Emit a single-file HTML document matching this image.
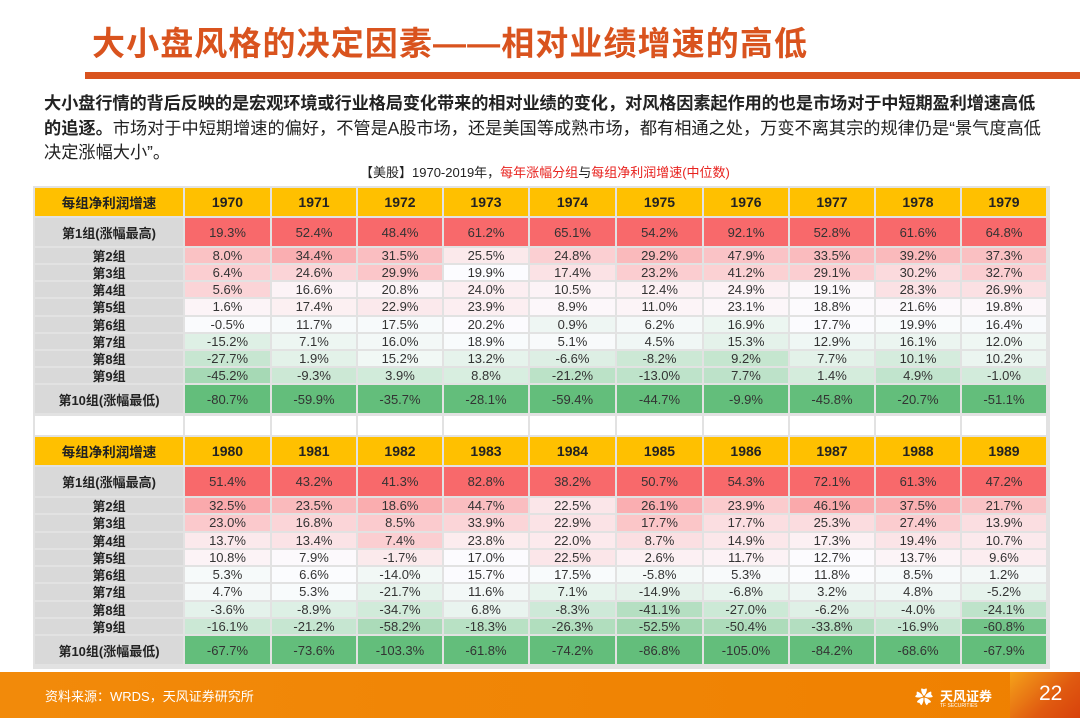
<!DOCTYPE html>
<html><head><meta charset="utf-8">
<style>
*{margin:0;padding:0;box-sizing:border-box}
body{width:1080px;height:718px;background:#fff;position:relative;overflow:hidden;font-family:"Liberation Sans","Noto Sans CJK SC",sans-serif;color:#222}
.title{position:absolute;left:92px;top:17px;font-size:33px;font-weight:bold;color:#D9531E;white-space:nowrap;letter-spacing:1.1px}
.bar{position:absolute;left:85px;top:72px;width:995px;height:7px;background:#D9531E}
.p{position:absolute;left:44px;width:1000px;font-size:17.2px;height:24px;line-height:24px;white-space:nowrap}
.cap{position:absolute;left:360px;top:162px;font-size:13px;color:#222;white-space:nowrap}
.cap span{color:#e8221e}
.c{position:absolute;display:flex;align-items:center;justify-content:center;font-size:13px;border-right:2px solid #e2e2e2;border-bottom:2px solid #e2e2e2;white-space:nowrap}
.foot{position:absolute;left:0;top:672px;width:1080px;height:46px;background:linear-gradient(90deg,#f28a0a,#ef8000)}
.ft{position:absolute;left:45px;top:686px;font-size:13px;color:#fff}
</style></head><body>
<div class="title">大小盘风格的决定因素——相对业绩增速的高低</div>
<div class="bar"></div>
<div class="p" style="top:91px;font-weight:bold;letter-spacing:-0.1px">大小盘行情的背后反映的是宏观环境或行业格局变化带来的相对业绩的变化，对风格因素起作用的也是市场对于中短期盈利增速高低</div>
<div class="p" style="top:116px"><b>的追逐。</b>市场对于中短期增速的偏好，不管是A股市场，还是美国等成熟市场，都有相通之处，万变不离其宗的规律仍是“景气度高低</div>
<div class="p" style="top:140px">决定涨幅大小”。</div>
<div class="cap">【美股】1970-2019年，<span>每年涨幅分组</span>与<span>每组净利润增速(中位数)</span></div>
<div id="t"></div>
<div class="foot"></div>
<div class="ft">资料来源：WRDS，天风证券研究所</div>
<div style="position:absolute;left:1010px;top:672px;width:70px;height:46px;background:linear-gradient(135deg,#f5a21a,#e05a10 60%,#d8420c)"></div>
<div style="position:absolute;left:915px;top:684px;color:#fff;font-size:18px;font-weight:bold">✿</div>
<div style="position:absolute;left:940px;top:686px;color:#fff;font-size:13px;font-weight:bold">天风证券</div>
<div style="position:absolute;left:940px;top:703px;color:#fff;font-size:5px">TF SECURITIES</div>
<div style="position:absolute;left:1039px;top:682px;color:#fff;font-size:21px">22</div>
<script>
var A=[[1970,1971,1972,1973,1974,1975,1976,1977,1978,1979],
[[19.3,52.4,48.4,61.2,65.1,54.2,92.1,52.8,61.6,64.8],
[8.0,34.4,31.5,25.5,24.8,29.2,47.9,33.5,39.2,37.3],
[6.4,24.6,29.9,19.9,17.4,23.2,41.2,29.1,30.2,32.7],
[5.6,16.6,20.8,24.0,10.5,12.4,24.9,19.1,28.3,26.9],
[1.6,17.4,22.9,23.9,8.9,11.0,23.1,18.8,21.6,19.8],
[-0.5,11.7,17.5,20.2,0.9,6.2,16.9,17.7,19.9,16.4],
[-15.2,7.1,16.0,18.9,5.1,4.5,15.3,12.9,16.1,12.0],
[-27.7,1.9,15.2,13.2,-6.6,-8.2,9.2,7.7,10.1,10.2],
[-45.2,-9.3,3.9,8.8,-21.2,-13.0,7.7,1.4,4.9,-1.0],
[-80.7,-59.9,-35.7,-28.1,-59.4,-44.7,-9.9,-45.8,-20.7,-51.1]]];
var B=[[1980,1981,1982,1983,1984,1985,1986,1987,1988,1989],
[[51.4,43.2,41.3,82.8,38.2,50.7,54.3,72.1,61.3,47.2],
[32.5,23.5,18.6,44.7,22.5,26.1,23.9,46.1,37.5,21.7],
[23.0,16.8,8.5,33.9,22.9,17.7,17.7,25.3,27.4,13.9],
[13.7,13.4,7.4,23.8,22.0,8.7,14.9,17.3,19.4,10.7],
[10.8,7.9,-1.7,17.0,22.5,2.6,11.7,12.7,13.7,9.6],
[5.3,6.6,-14.0,15.7,17.5,-5.8,5.3,11.8,8.5,1.2],
[4.7,5.3,-21.7,11.6,7.1,-14.9,-6.8,3.2,4.8,-5.2],
[-3.6,-8.9,-34.7,6.8,-8.3,-41.1,-27.0,-6.2,-4.0,-24.1],
[-16.1,-21.2,-58.2,-18.3,-26.3,-52.5,-50.4,-33.8,-16.9,-60.8],
[-67.7,-73.6,-103.3,-61.8,-74.2,-86.8,-105.0,-84.2,-68.6,-67.9]]];
var labels=["第1组(涨幅最高)","第2组","第3组","第4组","第5组","第6组","第7组","第8组","第9组","第10组(涨幅最低)"];
var xs=[35,185,272,358,444,530,617,704,790,876,962,1048];
var h="";
function cell(x,y,w,hh,txt,bg,st){h+='<div class="c" style="left:'+x+'px;top:'+y+'px;width:'+w+'px;height:'+hh+'px;background:'+bg+';'+(st||'')+'">'+txt+'</div>';}
function mix(a,b,t){return 'rgb('+[0,1,2].map(function(i){return Math.round(a[i]+(b[i]-a[i])*t)}).join(',')+')';}
var R=[248,105,107],W=[252,252,255],G=[99,190,123];
function col(v,arr){var s=arr.slice().sort(function(a,b){return a-b});var mn=s[0],mx=s[s.length-1],md=(s[4]+s[5])/2;
 if(v>=md)return mix(W,R,(v-md)/(mx-md||1));return mix(W,G,(md-v)/(md-mn||1));}
function table(D,y0,rowsY){
 cell(xs[0],y0,xs[1]-xs[0],30,"每组净利润增速","#FFC000","font-weight:bold;font-size:13.5px");
 for(var j=0;j<10;j++)cell(xs[j+1],y0,xs[j+2]-xs[j+1],30,D[0][j],"#FFC000","font-weight:bold;font-size:14px");
 for(var i=0;i<10;i++){var y=rowsY[i],hh=rowsY[i+1]-y;
  cell(xs[0],y,xs[1]-xs[0],hh,labels[i],"#D9D9D9","font-weight:bold");
  for(var j=0;j<10;j++){var c=D[1].map(function(r){return r[j]});var v=D[1][i][j];
   cell(xs[j+1],y,xs[j+2]-xs[j+1],hh,v.toFixed(1)+"%",col(v,c),"color:#333");}}
}
function ry(a,b,c){var r=[a,b];for(var k=1;k<=8;k++)r.push(b+(c-b)*k/8);r.push(c+30);return r;}
h+='<div style="position:absolute;left:33px;top:186px;width:1017px;height:483px;background:#e2e2e2"></div>';
table(A,188,ry(218,248,385));
cell(xs[0],416,xs[1]-xs[0],21,"","#fff");for(var j=0;j<10;j++)cell(xs[j+1],416,xs[j+2]-xs[j+1],21,"","#fff");
table(B,437,ry(467,498,636));
document.getElementById("t").innerHTML=h;
</script>
</body></html>
